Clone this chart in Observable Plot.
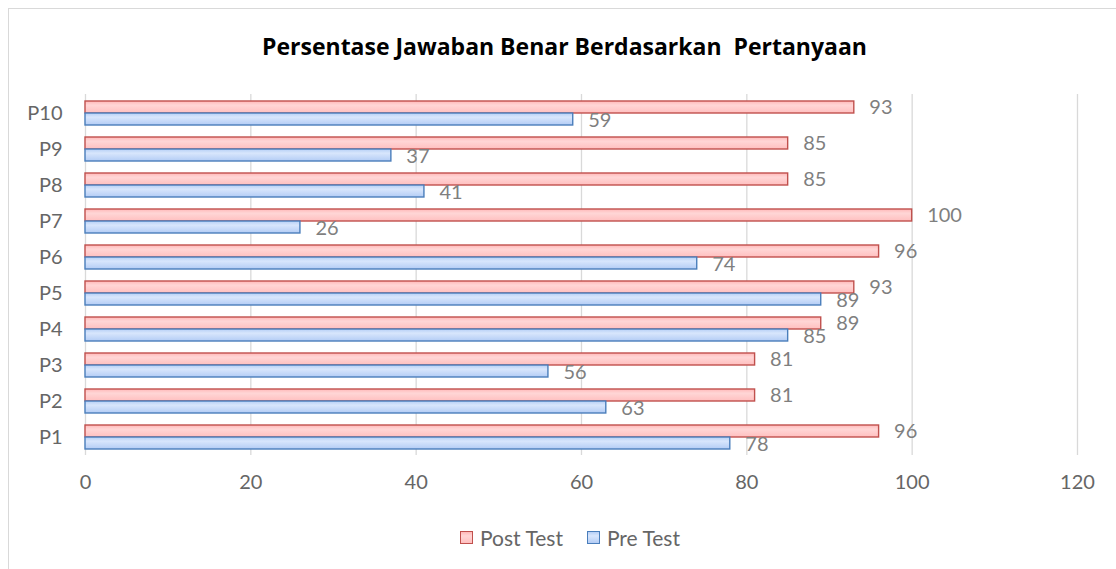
<!DOCTYPE html>
<html>
<head>
<meta charset="utf-8">
<script src="https://cdn.jsdelivr.net/npm/d3@7"></script>
<script src="https://cdn.jsdelivr.net/npm/@observablehq/plot@0.6"></script>
<style>
  html, body { margin: 0; padding: 0; background: #fff; overflow: hidden; width: 1116px; height: 569px; }
  #frame { position: absolute; left: 8px; top: 8px; width: 1200px; height: 700px; border: 1.5px solid #d9d9d9; box-sizing: border-box; }
  #wrap { position: absolute; left: 0; top: 0; width: 1116px; }
  #title { height: 80px; box-sizing: border-box; padding-top: 31px; padding-left: 13px; text-align: center; font-family: "Open Sans", sans-serif; font-weight: 700; font-size: 23px; color: #000; line-height: 30px; }
  #legend { display: flex; justify-content: center; align-items: center; padding-left: 24px; height: 36px; margin-top: 9px; font-family: Lato, "Open Sans", sans-serif; font-size: 21px; color: #666; }
  .item { display: flex; align-items: center; margin: 0 12px; }
  .sw { width: 13px; height: 13px; margin-right: 7px; box-sizing: border-box; }
  svg { display: block; }
</style>
</head>
<body>
<div id="frame"></div>
<div id="wrap">
  <div id="title">Persentase Jawaban Benar Berdasarkan&nbsp; Pertanyaan</div>
  <div id="chart"></div>
  <div id="legend"></div>
</div>
<script>
const questions = ["P1", "P2", "P3", "P4", "P5", "P6", "P7", "P8", "P9", "P10"];
const postTest = [96, 81, 81, 89, 93, 96, 100, 85, 85, 93];
const preTest = [78, 63, 56, 85, 89, 74, 26, 41, 37, 59];
const xTicks = [0, 20, 40, 60, 80, 100, 120];
const seriesNames = ["Post Test", "Pre Test"];

const post = questions.map((q, i) => ({q, v: postTest[i]}));
const pre = questions.map((q, i) => ({q, v: preTest[i]}));

const chart = Plot.plot({
  width: 1116,
  height: 430,
  marginTop: 14,
  marginBottom: 55,
  marginLeft: 85,
  marginRight: 39,
  style: {fontFamily: "Lato, 'Open Sans', sans-serif", background: "transparent"},
  x: {domain: [0, 120], label: null},
  y: {domain: questions.slice().reverse(), padding: 0, label: null},
  marks: [
    Plot.gridX(xTicks, {stroke: "#d9d9d9", strokeOpacity: 1, strokeWidth: 1.3}),
    Plot.barX(post, {x: "v", y: "q", insetTop: 6, insetBottom: 18, fill: "url(#gradRed)", stroke: "#c0504d", strokeWidth: 1.4, ariaLabel: "post-bar"}),
    Plot.barX(pre, {x: "v", y: "q", insetTop: 18, insetBottom: 6, fill: "url(#gradBlue)", stroke: "#4a7ebb", strokeWidth: 1.4, ariaLabel: "pre-bar"}),
    Plot.text(post, {x: "v", y: "q", text: d => String(d.v), dx: 15, dy: -6, textAnchor: "start", fill: "#7f7f7f", fontSize: 20}),
    Plot.text(pre, {x: "v", y: "q", text: d => String(d.v), dx: 15, dy: 7, textAnchor: "start", fill: "#7f7f7f", fontSize: 20}),
    Plot.axisX(xTicks, {tickSize: 0, tickPadding: 19, fontSize: 20, fill: "#666", label: null}),
    Plot.axisY({tickSize: 0, tickPadding: 23, fontSize: 20, fill: "#666", label: null})
  ]
});

const svg = d3.select(chart);
const defs = svg.insert("defs", ":first-child");
const gr = defs.append("linearGradient").attr("id", "gradRed").attr("x1", 0).attr("y1", 0).attr("x2", 0).attr("y2", 1);
gr.append("stop").attr("offset", "0%").attr("stop-color", "#ffb8b8");
gr.append("stop").attr("offset", "35%").attr("stop-color", "#ffd6d6");
gr.append("stop").attr("offset", "100%").attr("stop-color", "#ffbfbf");
const gb = defs.append("linearGradient").attr("id", "gradBlue").attr("x1", 0).attr("y1", 0).attr("x2", 0).attr("y2", 1);
gb.append("stop").attr("offset", "0%").attr("stop-color", "#b6cff6");
gb.append("stop").attr("offset", "35%").attr("stop-color", "#d8e6fc");
gb.append("stop").attr("offset", "100%").attr("stop-color", "#b3ccf5");
const f = defs.append("filter").attr("id", "shadow").attr("x", "-5%").attr("y", "-50%").attr("width", "110%").attr("height", "200%");
f.append("feDropShadow").attr("dx", 1.5).attr("dy", 2).attr("stdDeviation", 1.5).attr("flood-color", "#000").attr("flood-opacity", 0.3);
svg.selectAll("g[aria-label='post-bar'], g[aria-label='pre-bar']").attr("filter", "url(#shadow)");

document.getElementById("chart").appendChild(chart);

const legend = document.getElementById("legend");
const swatches = [
  {name: seriesNames[0], fill: "linear-gradient(#ffb8b8, #ffd6d6 35%, #ffbfbf)", stroke: "#c0504d"},
  {name: seriesNames[1], fill: "linear-gradient(#b6cff6, #d8e6fc 35%, #b3ccf5)", stroke: "#4a7ebb"}
];
for (const s of swatches) {
  const it = document.createElement("div");
  it.className = "item";
  const sw = document.createElement("div");
  sw.className = "sw";
  sw.style.background = s.fill;
  sw.style.border = "1.5px solid " + s.stroke;
  const t = document.createElement("span");
  t.textContent = s.name;
  it.appendChild(sw);
  it.appendChild(t);
  legend.appendChild(it);
}
</script>
</body>
</html>
